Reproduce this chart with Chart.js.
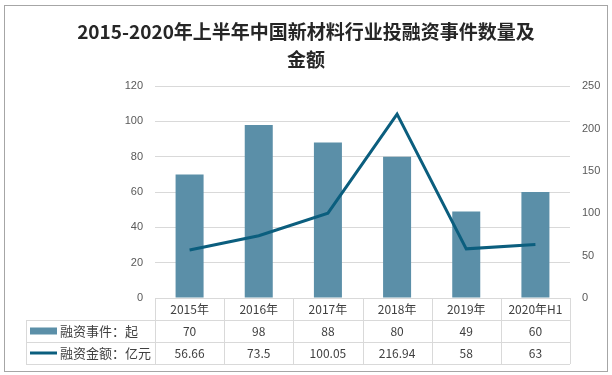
<!DOCTYPE html>
<html>
<head>
<meta charset="utf-8">
<style>
  html, body { margin: 0; padding: 0; background: #fff; }
  #wrap { width: 612px; height: 375px; }
</style>
</head>
<body>
<script src="https://cdn.jsdelivr.net/npm/chart.js"></script>
<div id="wrap"><canvas id="canvas" width="612" height="375"></canvas></div>
<script>
    const titleLines = ['2015-2020年上半年中国新材料行业投融资事件数量及', '金额'];
    const categories = ['2015年', '2016年', '2017年', '2018年', '2019年', '2020年H1'];
    const eventLabel = '融资事件：起';
    const eventCounts = [70, 98, 88, 80, 49, 60];
    const amountLabel = '融资金额：亿元';
    const amounts = [56.66, 73.5, 100.05, 216.94, 58, 63];
    const amountText = ['56.66', '73.5', '100.05', '216.94', '58', '63'];

    const barColor = '#5B8FA8';
    const lineColor = '#0B5E7E';
    const gridColor = '#D9D9D9';
    const cjkFont = "'Noto Sans CJK SC', 'Noto Sans', sans-serif";

    // outer frame + data table under the plot
    const tablePlugin = {
        id: 'tablePlugin',
        beforeDraw(chart) {
            const ctx = chart.ctx;
            ctx.save();
            ctx.fillStyle = '#fff';
            ctx.fillRect(0, 0, chart.width, chart.height);
            ctx.strokeStyle = '#A6A6A6';
            ctx.lineWidth = 1;
            ctx.strokeRect(4.5, 5.5, 603, 366);
            ctx.restore();
        },
        afterDraw(chart) {
            const ctx = chart.ctx;
            const area = chart.chartArea;
            const x = chart.scales.x;
            const top = area.bottom;
            const rowH = 22;
            const labelLeft = 26;
            const n = categories.length;
            const colW = (area.right - area.left) / n;
            ctx.save();
            ctx.strokeStyle = gridColor;
            ctx.lineWidth = 1;
            ctx.beginPath();
            // horizontal lines
            ctx.moveTo(area.left, top + 0.5); ctx.lineTo(area.right, top + 0.5);
            for (let r = 1; r <= 3; r++) {
                const y = Math.round(top + r * rowH) + 0.5;
                ctx.moveTo(labelLeft, y); ctx.lineTo(area.right, y);
            }
            // vertical lines
            for (let c = 0; c <= n; c++) {
                const xx = Math.round(area.left + c * colW) + 0.5;
                ctx.moveTo(xx, top); ctx.lineTo(xx, top + 3 * rowH);
            }
            ctx.moveTo(labelLeft + 0.5, top + rowH); ctx.lineTo(labelLeft + 0.5, top + 3 * rowH);
            ctx.stroke();

            ctx.fillStyle = '#404040';
            ctx.font = '12px ' + cjkFont;
            ctx.textAlign = 'center';
            ctx.textBaseline = 'middle';
            for (let i = 0; i < n; i++) {
                const cx = x.getPixelForValue(i);
                ctx.fillText(categories[i], cx, top + rowH * 0.5);
                ctx.fillText(String(eventCounts[i]), cx, top + rowH * 1.5);
                ctx.fillText(amountText[i], cx, top + rowH * 2.5);
            }
            // legend keys
            ctx.fillStyle = barColor;
            ctx.fillRect(30, top + rowH * 1.5 - 3.5, 27, 7);
            ctx.strokeStyle = lineColor;
            ctx.lineWidth = 3;
            ctx.beginPath();
            ctx.moveTo(30, top + rowH * 2.5); ctx.lineTo(57, top + rowH * 2.5);
            ctx.stroke();
            ctx.fillStyle = '#404040';
            ctx.textAlign = 'left';
            ctx.font = '13px ' + cjkFont;
            ctx.fillText(eventLabel, 60, top + rowH * 1.5);
            ctx.fillText(amountLabel, 60, top + rowH * 2.5);
            ctx.restore();
        }
    };

    const config = {
        type: 'bar',
        data: {
            labels: categories,
            datasets: [{
                type: 'line',
                label: amountLabel,
                data: amounts,
                yAxisID: 'y1',
                borderColor: lineColor,
                borderWidth: 3,
                pointRadius: 0,
                tension: 0,
                order: 0
            }, {
                type: 'bar',
                label: eventLabel,
                data: eventCounts,
                yAxisID: 'y',
                backgroundColor: barColor,
                barPercentage: 0.405,
                categoryPercentage: 1,
                order: 1
            }]
        },
        options: {
            responsive: false,
            animation: false,
            layout: { padding: { top: 0, bottom: 77, left: 0, right: 0 } },
            plugins: {
                legend: { display: false },
                tooltip: { enabled: false },
                title: {
                    display: true,
                    text: titleLines,
                    color: '#262626',
                    font: { family: cjkFont, size: 19, weight: 'bold', lineHeight: 1.45 },
                    padding: { top: 18, bottom: 13 }
                }
            },
            scales: {
                x: { display: false },
                y: {
                    position: 'left',
                    min: 0, max: 120,
                    ticks: { stepSize: 20, color: '#595959', padding: 12, font: { family: "'Liberation Sans', sans-serif", size: 11 } },
                    grid: { color: gridColor, drawTicks: false },
                    border: { display: false },
                    afterFit(scale) { scale.width = 155; }
                },
                y1: {
                    position: 'right',
                    min: 0, max: 250,
                    ticks: { stepSize: 50, color: '#595959', padding: 12, font: { family: "'Liberation Sans', sans-serif", size: 11 } },
                    grid: { display: false, drawTicks: false },
                    border: { display: false },
                    afterFit(scale) { scale.width = 42; }
                }
            }
        },
        plugins: [tablePlugin]
    };

    const myChart = new Chart(document.getElementById('canvas'), config);
</script>
</body>
</html>
